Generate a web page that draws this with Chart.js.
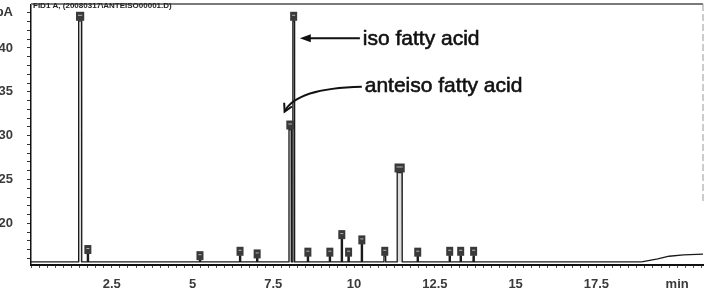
<!DOCTYPE html>
<html>
<head>
<meta charset="utf-8">
<script src="https://cdn.jsdelivr.net/npm/chart.js@4.4.1/dist/chart.umd.min.js"></script>
<style>
  html, body { margin: 0; padding: 0; background: #fff; }
  #wrap { width: 713px; height: 293px; }
</style>
</head>
<body>
<div id="wrap"><canvas id="fid_chart" width="713" height="293"></canvas></div>
<script>
// retention time (min), peak top (pA), peak width (min)
let peakTimes   = [1.52, 1.76, 5.23, 6.47, 7.00, 8.02, 8.13, 8.57, 9.25, 9.62, 9.83, 10.24, 10.95, 11.41, 11.97, 12.96, 13.30, 13.70];
let peakHeights = [43.1, 16.5, 15.8, 16.3, 16.0, 30.7, 43.1, 16.2, 16.2, 18.2, 16.2, 17.6, 16.3, 25.8, 16.2, 16.3, 16.3, 16.3];
let peakWidths  = [0.10, 0.04, 0.04, 0.04, 0.04, 0.08, 0.06, 0.04, 0.04, 0.04, 0.04, 0.04, 0.06, 0.16, 0.04, 0.04, 0.04, 0.04];

// baseline with the drift at the end of the run
let driftTimes  = [0, 18.9, 19.4, 19.75, 20.2, 20.8];
let driftLevels = [15.6, 15.6, 15.95, 16.25, 16.4, 16.5];

let xLabelValues = [2.5, 5, 7.5, 10, 12.5, 15, 17.5, 20];
let xLabelTexts  = ['2.5', '5', '7.5', '10', '12.5', '15', '17.5', 'min'];
let yLabelValues = [20, 25, 30, 35, 40, 44];
let yLabelTexts  = ['20', '25', '30', '35', '40', 'pA'];

let trace = [];
let base = driftLevels[0];
peakTimes.forEach(function(t, i) {
    let w = peakWidths[i];
    trace.push({x: t - w / 2, y: base});
    trace.push({x: t - w / 2 + 0.005, y: peakHeights[i]});
    trace.push({x: t + w / 2 - 0.005, y: peakHeights[i]});
    trace.push({x: t + w / 2, y: base});
});
driftTimes.forEach(function(t, i) { trace.push({x: t, y: driftLevels[i]}); });
trace.sort(function(a, b) { return a.x - b.x; });

let tickFont = {family: 'Liberation Sans', size: 13, weight: 'bold'};

// little label boxes sitting on each peak
let peakBoxes = {
    id: 'peakBoxes',
    afterDatasetsDraw(chart) {
        let xs = chart.scales.x, ys = chart.scales.y, ctx = chart.ctx;
        ctx.save();
        peakTimes.forEach(function(t, i) {
            let px = xs.getPixelForValue(t), py = ys.getPixelForValue(peakHeights[i]);
            let wpx = xs.getPixelForValue(t + peakWidths[i] / 2) - xs.getPixelForValue(t - peakWidths[i] / 2);
            let bw = Math.max(7, wpx + 5);
            ctx.fillStyle = '#3a3a3a';
            ctx.fillRect(px - bw / 2, py - 9, bw, 9);
            ctx.fillStyle = '#b5b5b5';
            ctx.fillRect(px - bw / 2 + 2, py - 6, bw - 4, 1);
        });
        ctx.restore();
    }
};

// frame, run title and the two arrows with text
let extras = {
    id: 'extras',
    afterDraw(chart) {
        let xs = chart.scales.x, ys = chart.scales.y, ctx = chart.ctx, a = chart.chartArea;
        ctx.save();
        ctx.strokeStyle = '#7a7a7a';
        ctx.lineWidth = 2;
        ctx.beginPath();
        ctx.moveTo(a.left, a.top - 1);
        ctx.lineTo(a.right, a.top - 1);
        ctx.stroke();
        ctx.setLineDash([7, 3]);
        ctx.lineWidth = 1;
        ctx.strokeStyle = '#999';
        ctx.beginPath();
        ctx.moveTo(a.right, a.top - 1);
        ctx.lineTo(a.right, ys.getPixelForValue(22.2));
        ctx.stroke();
        ctx.setLineDash([]);

        ctx.fillStyle = '#222';
        ctx.font = 'bold 8px "Liberation Sans"';
        ctx.textBaseline = 'alphabetic';
        ctx.fillText('FID1 A, (20080317\\ANTEISO00001.D)', a.left + 2, 8);

        ctx.fillStyle = '#111';
        ctx.strokeStyle = '#111';
        ctx.lineWidth = 0.6;
        ctx.font = '21px "Liberation Sans"';
        let isoX = xs.getPixelForValue(10.27), isoY = ys.getPixelForValue(40.34);
        let antX = xs.getPixelForValue(10.33), antY = ys.getPixelForValue(35.0);
        ctx.fillText('iso fatty acid', isoX, isoY);
        ctx.strokeText('iso fatty acid', isoX, isoY);
        ctx.fillText('anteiso fatty acid', antX, antY);
        ctx.strokeText('anteiso fatty acid', antX, antY);

        // iso arrow
        let x1 = xs.getPixelForValue(10.18), x2 = xs.getPixelForValue(8.32), y1 = ys.getPixelForValue(41.1);
        ctx.lineWidth = 2;
        ctx.beginPath();
        ctx.moveTo(x1, y1);
        ctx.lineTo(x2 + 8, y1);
        ctx.stroke();
        ctx.beginPath();
        ctx.moveTo(x2, y1);
        ctx.lineTo(x2 + 11, y1 - 4);
        ctx.lineTo(x2 + 11, y1 + 4);
        ctx.closePath();
        ctx.fill();

        // anteiso arrow (curved)
        let sx = xs.getPixelForValue(10.24), sy = ys.getPixelForValue(35.57);
        let cx = xs.getPixelForValue(8.2), cy = ys.getPixelForValue(35.4);
        let ex = xs.getPixelForValue(7.85), ey = ys.getPixelForValue(32.73);
        ctx.beginPath();
        ctx.moveTo(sx, sy);
        ctx.quadraticCurveTo(cx, cy, ex, ey);
        ctx.stroke();
        let ang = Math.atan2(ey - cy, ex - cx);
        ctx.beginPath();
        ctx.moveTo(ex - 9 * Math.cos(ang - 0.5), ey - 9 * Math.sin(ang - 0.5));
        ctx.lineTo(ex, ey);
        ctx.lineTo(ex - 9 * Math.cos(ang + 0.5), ey - 9 * Math.sin(ang + 0.5));
        ctx.stroke();
        ctx.restore();
    }
};

let fidChart = new Chart(document.getElementById('fid_chart'), {
    type: 'line',
    data: {
        datasets: [
            {
                label: 'FID1 A',
                data: trace,
                borderColor: '#1a1a1a',
                borderWidth: 1.3,
                backgroundColor: 'rgba(0,0,0,0.13)',
                fill: {value: base},
                segment: {
                    backgroundColor: function(c) { return c.p0.parsed.x >= 18 ? 'rgba(0,0,0,0)' : undefined; }
                },
                pointRadius: 0,
                tension: 0
            }
        ]
    },
    options: {
        responsive: false,
        animation: false,
        devicePixelRatio: 1,
        layout: {padding: {top: 5, right: 10, left: 0, bottom: 0}},
        plugins: {legend: {display: false}, tooltip: {enabled: false}},
        scales: {
            x: {
                type: 'linear',
                min: 0,
                max: 20.8,
                afterBuildTicks: function(scale) {
                    let t = [];
                    for (let v = 0; v <= 20.75; v += 0.25) t.push({value: v});
                    scale.ticks = t;
                },
                afterFit: function(scale) {
                    scale.height = 28;
                    scale.paddingLeft = 0;
                    scale.paddingRight = 0;
                },
                grid: {drawOnChartArea: false, drawTicks: true, tickLength: 3, color: '#555'},
                border: {display: true, color: '#111', width: 2},
                ticks: {
                    autoSkip: false,
                    maxRotation: 0,
                    minRotation: 0,
                    padding: 9,
                    color: '#3a3a3a',
                    font: tickFont,
                    callback: function(v) {
                        let k = xLabelValues.indexOf(v);
                        return k >= 0 ? xLabelTexts[k] : '';
                    }
                }
            },
            y: {
                type: 'linear',
                min: 15.25,
                max: 44.9,
                afterBuildTicks: function(scale) {
                    let t = [];
                    for (let v = 16; v <= 44; v++) t.push({value: v});
                    scale.ticks = t;
                },
                afterFit: function(scale) {
                    scale.width = 31;
                    scale.paddingTop = 0;
                    scale.paddingBottom = 0;
                },
                grid: {drawOnChartArea: false, drawTicks: true, tickLength: 4, color: '#333'},
                border: {display: true, color: '#111', width: 1.5},
                ticks: {
                    autoSkip: false,
                    padding: 14,
                    color: '#3a3a3a',
                    font: tickFont,
                    callback: function(v) {
                        let k = yLabelValues.indexOf(v);
                        return k >= 0 ? yLabelTexts[k] : '';
                    }
                }
            }
        }
    },
    plugins: [peakBoxes, extras]
});
</script>
</body>
</html>
